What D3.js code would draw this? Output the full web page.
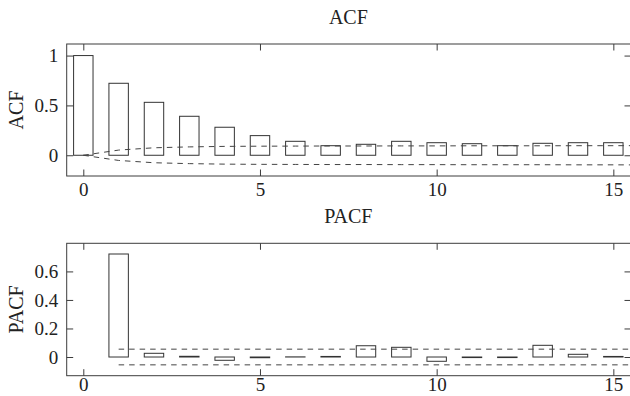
<!DOCTYPE html>
<html>
<head>
<meta charset="utf-8">
<script src="https://cdn.jsdelivr.net/npm/d3@7"></script>
<style>
  html, body { margin: 0; padding: 0; background: #fff; }
  svg { display: block; }
  text { font-family: "Liberation Serif", "DejaVu Serif", serif; fill: #222; }
</style>
</head>
<body>
<svg id="chart" width="630" height="396"></svg>
<script>
// ---- data ----
const acfLags = [0, 1, 2, 3, 4, 5, 6, 7, 8, 9, 10, 11, 12, 13, 14, 15];
const acfValues = [1.0, 0.722, 0.531, 0.391, 0.281, 0.197, 0.140, 0.096, 0.110, 0.140, 0.126, 0.116, 0.096, 0.120, 0.126, 0.126];
const acfBandLags = [0, 1, 2, 3, 4, 5, 6, 7, 8, 9, 10, 11, 12, 13, 14, 15, 16];
const acfBand = [0, 0.052, 0.075, 0.084, 0.089, 0.091, 0.092, 0.093, 0.093, 0.094, 0.094, 0.095, 0.095, 0.095, 0.096, 0.096, 0.097];

const pacfLags = [1, 2, 3, 4, 5, 6, 7, 8, 9, 10, 11, 12, 13, 14, 15];
const pacfValues = [0.722, 0.026, 0.005, -0.023, -0.005, 0.001, 0.004, 0.079, 0.068, -0.030, -0.004, -0.004, 0.082, 0.019, 0.004];
const pacfBandLags = [1, 16];
const pacfBand = [0.055, 0.055];

const xTicks = [0, 5, 10, 15];
const acfYTicks = [0, 0.5, 1];
const pacfYTicks = [0, 0.2, 0.4, 0.6];

// ---- drawing ----
const svg = d3.select("#chart");
const left = 66.7, right = 631;
const xDomain = [-0.47, 15.5];
const barHalf = 0.275;
const tickLen = 6.5;
const axisColor = "#3c3c3c";
const tickFont = 19, labelFont = 20;

function panel(cfg) {
  const g = svg.append("g");
  const x = d3.scaleLinear().domain(xDomain).range([left, right]);
  const y = d3.scaleLinear().domain(cfg.yDomain).range([cfg.bottom, cfg.top]);

  const clipId = "clip-" + cfg.name;
  svg.append("clipPath").attr("id", clipId)
    .append("rect").attr("x", left).attr("y", cfg.top)
    .attr("width", right - left).attr("height", cfg.bottom - cfg.top);

  const plot = g.append("g").attr("clip-path", `url(#${clipId})`);

  // bars
  plot.selectAll("rect.bar").data(cfg.lags.map((l, i) => [l, cfg.values[i]]))
    .join("rect").attr("class", "bar")
    .attr("x", d => x(d[0] - barHalf))
    .attr("width", d => x(d[0] + barHalf) - x(d[0] - barHalf))
    .attr("y", d => y(Math.max(0, d[1])))
    .attr("height", d => Math.abs(y(d[1]) - y(0)))
    .attr("fill", "#fff")
    .attr("stroke", "#333")
    .attr("stroke-width", 1);

  // confidence bands
  const pts = cfg.bandLags.map((l, i) => [l, cfg.band[i]]);
  const line = d3.line().x(d => x(d[0])).y(d => y(d[1]));
  [1, -1].forEach(s => {
    plot.append("path")
      .attr("d", line(pts.map(p => [p[0], s * p[1]])))
      .attr("fill", "none")
      .attr("stroke", "#444")
      .attr("stroke-width", 1)
      .attr("stroke-dasharray", "5.5,5");
  });

  // frame
  g.append("rect")
    .attr("x", left).attr("y", cfg.top)
    .attr("width", right - left).attr("height", cfg.bottom - cfg.top)
    .attr("fill", "none").attr("stroke", axisColor).attr("stroke-width", 1);

  // x axis (bottom) with inward ticks, top mirror ticks
  const xAxis = d3.axisBottom(x).tickValues(xTicks).tickSize(-tickLen).tickPadding(cfg.xPad).tickFormat(d3.format("d"));
  const xa = g.append("g").attr("transform", `translate(0,${cfg.bottom})`).call(xAxis);
  xa.select(".domain").remove();
  xa.selectAll("line").attr("stroke", axisColor);
  xa.selectAll("text").attr("font-size", tickFont).attr("font-family", "Liberation Serif, serif").attr("fill", "#222");

  const xTop = d3.axisTop(x).tickValues(xTicks).tickSize(-tickLen).tickFormat("");
  const xt = g.append("g").attr("transform", `translate(0,${cfg.top})`).call(xTop);
  xt.select(".domain").remove();
  xt.selectAll("line").attr("stroke", axisColor);

  // y axis left with inward ticks, right mirror
  const yAxis = d3.axisLeft(y).tickValues(cfg.yTicks).tickSize(-tickLen).tickPadding(8.5).tickFormat(d => String(d));
  const ya = g.append("g").attr("transform", `translate(${left},0)`).call(yAxis);
  ya.select(".domain").remove();
  ya.selectAll("line").attr("stroke", axisColor);
  ya.selectAll("text").attr("font-size", tickFont).attr("font-family", "Liberation Serif, serif").attr("fill", "#222");

  const yRight = d3.axisRight(y).tickValues(cfg.yTicks).tickSize(-tickLen).tickFormat("");
  const yr = g.append("g").attr("transform", `translate(${right},0)`).call(yRight);
  yr.select(".domain").remove();
  yr.selectAll("line").attr("stroke", axisColor);

  // title
  g.append("text")
    .attr("x", (left + 630) / 2)
    .attr("y", cfg.top - 20.5)
    .attr("text-anchor", "middle")
    .attr("font-size", labelFont)
    .text(cfg.name);

  // y label
  g.append("text")
    .attr("transform", `translate(23,${(cfg.top + cfg.bottom) / 2}) rotate(-90)`)
    .attr("text-anchor", "middle")
    .attr("font-size", labelFont)
    .text(cfg.name);
}

panel({
  name: "ACF", top: 44, bottom: 176, yDomain: [-0.208, 1.116], xPad: 7,
  lags: acfLags, values: acfValues, bandLags: acfBandLags, band: acfBand, yTicks: acfYTicks
});
panel({
  name: "PACF", top: 243.3, bottom: 375.7, yDomain: [-0.131, 0.797], xPad: 2,
  lags: pacfLags, values: pacfValues, bandLags: pacfBandLags, band: pacfBand, yTicks: pacfYTicks
});
</script>
</body>
</html>
